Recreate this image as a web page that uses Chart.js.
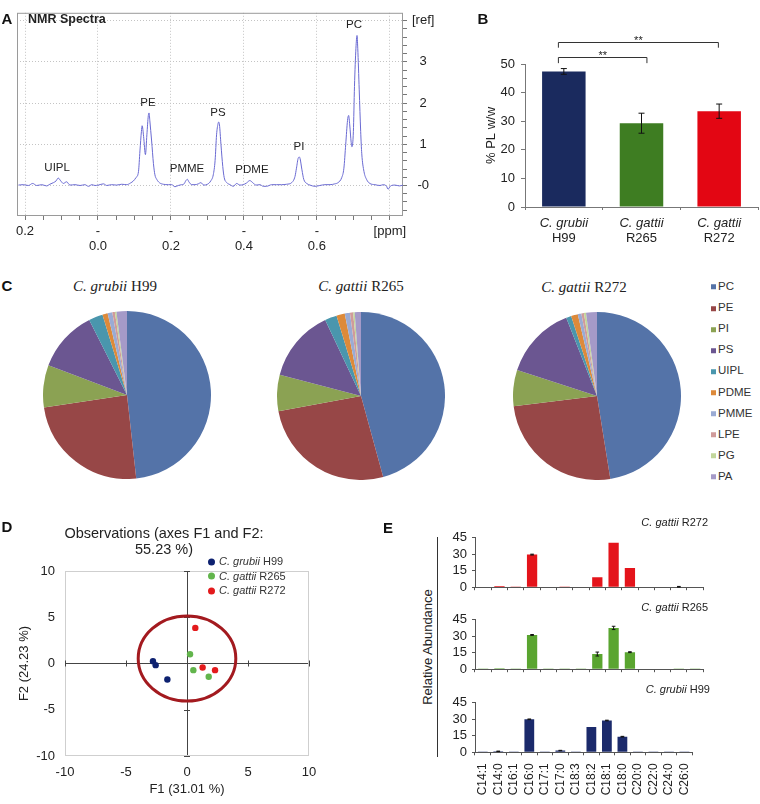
<!DOCTYPE html>
<html>
<head>
<meta charset="utf-8">
<script src="https://cdn.jsdelivr.net/npm/chart.js@4.4.1/dist/chart.umd.min.js"></script>
<style>
  body { margin: 0; background: #fff; }
  #fig { position: relative; width: 760px; height: 804px; overflow: hidden;
         font-family: 'Liberation Sans', Arial, sans-serif; color: #222; }
  #fig canvas { position: absolute; }
  .t { position: absolute; white-space: nowrap; line-height: 1; }
  .c { transform: translate(-50%, -50%); }
  .l { transform: translate(0, -50%); }
  .r { transform: translate(-100%, -50%); }
  .v { transform: translate(-50%, -50%) rotate(-90deg); }
  .panel { font-weight: bold; font-size: 15px; color: #111; }
  .serif { font-family: 'Liberation Serif', 'Times New Roman', serif; font-size: 15px; }
  .sq { display: inline-block; width: 5px; height: 5px; margin-right: 2px; vertical-align: middle; }
  .dot { display: inline-block; width: 7px; height: 7px; border-radius: 50%; margin-right: 4px; vertical-align: middle; }
</style>
</head>
<body>
<div id="fig">
  <canvas id="nmr" width="440" height="262" style="left:0;top:0"></canvas>
  <canvas id="plw" width="320" height="250" style="left:440px;top:0"></canvas>
  <canvas id="pieH99" width="168" height="168" style="left:43px;top:311px"></canvas>
  <canvas id="pieR265" width="168" height="168" style="left:277px;top:312px"></canvas>
  <canvas id="pieR272" width="168" height="168" style="left:513px;top:312px"></canvas>
  <canvas id="pca" width="340" height="284" style="left:0;top:520px"></canvas>
  <canvas id="faR272" width="270" height="75" style="left:437px;top:525px"></canvas>
  <canvas id="faR265" width="270" height="75" style="left:437px;top:607px"></canvas>
  <canvas id="faH99" width="270" height="114" style="left:437px;top:690px"></canvas>

  <div class="t c panel" style="left:7px;top:18px">A</div>
  <div class="t c panel" style="left:483px;top:18px">B</div>
  <div class="t c panel" style="left:7px;top:285px">C</div>
  <div class="t c panel" style="left:7px;top:526px">D</div>
  <div class="t c panel" style="left:388px;top:527px">E</div>

  <div class="t l" style="left:28px;top:19px;font-weight:bold;font-size:12.5px">NMR Spectra</div>

  <div class="t c serif" style="left:115px;top:286px"><i>C. grubii</i> H99</div>
  <div class="t c serif" style="left:361px;top:286px"><i>C. gattii</i> R265</div>
  <div class="t c serif" style="left:584px;top:287px"><i>C. gattii</i> R272</div>
  <div id="pieLegend"></div>

  <div class="t c" style="left:164px;top:533px;font-size:14.5px">Observations (axes F1 and F2:</div>
  <div class="t c" style="left:164px;top:549px;font-size:14.5px">55.23 %)</div>
  <div id="pcaLegend"></div>

  <div class="t r" style="left:708px;top:522px;font-size:11px"><i>C. gattii</i> R272</div>
  <div class="t r" style="left:708px;top:607px;font-size:11px"><i>C. gattii</i> R265</div>
  <div class="t r" style="left:710px;top:689px;font-size:11px"><i>C. grubii</i> H99</div>
  <div class="t v" style="left:427px;top:647px;font-size:13px;color:#222">Relative Abundance</div>
  <div style="position:absolute;left:437px;top:537px;width:1px;height:220px;background:#333"></div>
</div>

<script>
const nmrPpm = [
  -0.218, -0.205, -0.191, -0.179, -0.168, -0.154, -0.141, -0.132, -0.122, -0.115,
  -0.109, -0.102, -0.095, -0.086, -0.077, -0.063, -0.049, -0.036, -0.026, -0.017,
  -0.008, 0.001, 0.015, 0.024, 0.037, 0.051, 0.065, 0.079, 0.089, 0.097,
  0.104, 0.111, 0.115, 0.119, 0.121, 0.125, 0.130, 0.134, 0.138, 0.140,
  0.142, 0.147, 0.152, 0.156, 0.161, 0.168, 0.179, 0.193, 0.202, 0.211,
  0.220, 0.229, 0.236, 0.241, 0.245, 0.249, 0.257, 0.266, 0.275, 0.282,
  0.290, 0.300, 0.309, 0.316, 0.321, 0.325, 0.329, 0.331, 0.333, 0.337,
  0.342, 0.346, 0.353, 0.362, 0.371, 0.380, 0.389, 0.398, 0.407, 0.416,
  0.424, 0.433, 0.444, 0.453, 0.462, 0.476, 0.489, 0.503, 0.517, 0.531,
  0.540, 0.544, 0.549, 0.552, 0.554, 0.559, 0.564, 0.572, 0.581, 0.595,
  0.608, 0.622, 0.636, 0.649, 0.658, 0.668, 0.674, 0.679, 0.684, 0.687,
  0.690, 0.694, 0.696, 0.700, 0.703, 0.707, 0.710, 0.712, 0.716, 0.720,
  0.723, 0.729, 0.736, 0.745, 0.759, 0.773, 0.782, 0.791, 0.795, 0.802,
  0.814, 0.826, 0.836
];
const nmrIntensity = [
  0.01, 0.02, 0.00, 0.05, 0.00, 0.02, -0.01, 0.03, 0.07, 0.11,
  0.18, 0.11, 0.05, 0.09, 0.01, 0.02, 0.00, 0.02, -0.02, 0.02,
  0.00, 0.01, 0.04, 0.00, 0.02, 0.01, 0.03, 0.02, 0.06, 0.11,
  0.19, 0.34, 0.84, 1.31, 1.45, 1.19, 0.75, 1.23, 1.70, 1.76,
  1.58, 1.08, 0.53, 0.26, 0.15, 0.07, 0.03, 0.02, 0.02, -0.03,
  0.00, 0.02, 0.04, 0.12, 0.15, 0.09, 0.02, 0.02, 0.04, 0.07,
  0.01, 0.03, 0.11, 0.26, 0.61, 1.23, 1.50, 1.54, 1.47, 1.00,
  0.46, 0.19, 0.07, 0.02, -0.02, 0.05, 0.01, 0.02, 0.06, 0.12,
  0.07, 0.01, 0.02, -0.02, -0.02, 0.02, 0.02, 0.02, 0.03, 0.07,
  0.22, 0.42, 0.67, 0.69, 0.65, 0.38, 0.15, 0.05, 0.01, -0.02,
  0.00, 0.02, 0.02, 0.04, 0.07, 0.19, 0.42, 1.00, 1.58, 1.70,
  1.47, 1.04, 0.94, 1.31, 2.40, 3.33, 3.64, 3.33, 2.32, 1.31,
  0.77, 0.34, 0.15, 0.05, 0.02, 0.00, 0.02, -0.02, -0.09, -0.01,
  0.01, -0.01, 0.01
];
const peakNames   = ['UIPL', 'PE', 'PMME', 'PS', 'PDME', 'PI', 'PC'];
const peakPpm     = [-0.112, 0.137, 0.244, 0.329, 0.422, 0.551, 0.702];
const peakLabelY  = [0.44, 2.0, 0.40, 1.77, 0.37, 0.93, 3.91];
const nmrMajorTicks = [-0.2, 0, 0.2, 0.4, 0.6, 0.8];
const nmrTickTop    = ['0.2', '-', '-', '-', '-', '[ppm]'];
const nmrTickBottom = ['', '0.0', '0.2', '0.4', '0.6', ''];
const nmrYTicks      = [0, 1, 2, 3, 4];
const nmrYTickLabels = ['-0', '1', '2', '3', '[ref]'];

// ---- B: fosfolipídio total ----
const strainSpecies = ['C. grubii', 'C. gattii', 'C. gattii'];
const strainIds     = ['H99', 'R265', 'R272'];
const plPercent = [47.4, 29.3, 33.5];
const plError   = [1.0, 3.5, 2.5];
const sigFrom  = [-0.07, -0.07];
const sigTo    = [1.07, 1.99];
const sigLevel = [52.3, 57.7];
const sigMarks = ['**', '**'];

// ---- C: composição de fosfolipídios ----
const pieLabels = ['PC', 'PE', 'PI', 'PS', 'UIPL', 'PDME', 'PMME', 'LPE', 'PG', 'PA'];
const h99Share  = [48.1, 24.3, 8.1, 11.8, 2.7, 1.0, 0.9, 0.5, 0.3, 2.0];
const r265Share = [45.7, 26.3, 7.0, 13.9, 2.3, 1.6, 1.0, 0.6, 0.3, 1.2];
const r272Share = [47.7, 25.7, 7.0, 14.1, 1.0, 1.3, 0.7, 0.5, 0.4, 2.1];

// ---- D: observações da PCA ----
const h99F1  = [-2.79, -2.57, -1.61];
const h99F2  = [0.25, -0.18, -1.73];
const r265F1 = [0.25, 0.52, 1.78];
const r265F2 = [1.0, -0.72, -1.44];
const r272F1 = [0.68, 1.28, 2.30];
const r272F2 = [3.85, -0.43, -0.72];
const pcaTicks = [-10, -5, 0, 5, 10];
const ellipseCenter = [0, 0.54];
const ellipseRadii  = [4.0, 4.6];

// ---- E: perfil de ácidos graxos ----
const fattyAcids = ['C14:1', 'C14:0', 'C16:1', 'C16:0', 'C17:1', 'C17:0', 'C18:3',
                    'C18:2', 'C18:1', 'C18:0', 'C20:0', 'C22:0', 'C24:0', 'C26:0'];
const faR272Values = [0, 1.0, 0.6, 29.7, 0, 0.7, 0, 9.0, 40.6, 17.5, 0, 0, 0.4, 0];
const faR272Errors = [0, 0, 0, 0.4, 0, 0, 0, 0, 0, 0, 0, 0, 0.3, 0];
const faR265Values = [0.2, 0.8, 0.2, 31.2, 0.2, 0.6, 0.2, 13.8, 37.6, 15.5, 0.3, 0.3, 0.2, 0.2];
const faR265Errors = [0, 0, 0, 0.4, 0, 0, 0, 1.8, 1.5, 0.4, 0, 0, 0, 0];
const faH99Values  = [0.2, 0.9, 0.2, 30.0, 0.2, 1.6, 0.2, 23.0, 28.9, 14.2, 0.2, 0.2, 0.2, 0.2];
const faH99Errors  = [0, 0.2, 0, 0.3, 0, 0.2, 0, 0, 0.3, 0.3, 0, 0, 0, 0];

// Cores
const strainColors = ['#1a2a5e', '#3e7d22', '#e30613'];
const pcaColors    = ['#0d2170', '#62b54c', '#e31a1c'];
const faColors     = ['#1b2a6b', '#5aa530', '#e4141b'];
const pieColors = ['#5473a8', '#974747', '#8ba253', '#6b5691', '#4a96ad',
                   '#dd8a3a', '#9aabd4', '#d09b9a', '#c2d69b', '#a59ac8'];

const FONT = "'Liberation Sans', Arial, sans-serif";
Chart.defaults.font.family = FONT;
Chart.defaults.color = '#222';
Chart.defaults.animation = false;
Chart.defaults.responsive = false;
Chart.defaults.events = [];
Chart.defaults.plugins.legend.display = false;
Chart.defaults.plugins.tooltip.enabled = false;

const near = (a, b) => Math.abs(a - b) < 1e-6;

// --- plugins ---
const framePlugin = {
  id: 'frame',
  beforeDatasetsDraw(chart, args, opts) {
    const { ctx, chartArea: a } = chart;
    ctx.save();
    ctx.strokeStyle = opts.color || '#999';
    ctx.lineWidth = 1;
    ctx.strokeRect(a.left + 0.5, a.top + 0.5, a.right - a.left - 1, a.bottom - a.top - 1);
    ctx.restore();
  }
};

const peakLabelPlugin = {
  id: 'peakLabels',
  afterDatasetsDraw(chart) {
    const { ctx, scales: { x, y } } = chart;
    ctx.save();
    ctx.font = '11.5px ' + FONT;
    ctx.fillStyle = '#222';
    ctx.textAlign = 'center';
    ctx.textBaseline = 'middle';
    peakNames.forEach((n, i) => ctx.fillText(n, x.getPixelForValue(peakPpm[i]), y.getPixelForValue(peakLabelY[i])));
    ctx.restore();
  }
};

const errorBarPlugin = {
  id: 'errorBars',
  afterDatasetsDraw(chart, args, opts) {
    const { ctx, scales: { y } } = chart;
    ctx.save();
    ctx.strokeStyle = '#111';
    ctx.lineWidth = 1;
    chart.data.datasets.forEach((ds, di) => {
      if (!ds.errors) return;
      chart.getDatasetMeta(di).data.forEach((bar, i) => {
        const e = ds.errors[i];
        if (!e) return;
        const top = y.getPixelForValue(ds.data[i] + e);
        const bot = y.getPixelForValue(ds.data[i] - e);
        const c = opts.cap || 3;
        ctx.beginPath();
        ctx.moveTo(bar.x, top); ctx.lineTo(bar.x, bot);
        ctx.moveTo(bar.x - c, top); ctx.lineTo(bar.x + c, top);
        ctx.moveTo(bar.x - c, bot); ctx.lineTo(bar.x + c, bot);
        ctx.stroke();
      });
    });
    ctx.restore();
  }
};

const strainLabelPlugin = {
  id: 'strainLabels',
  afterDraw(chart) {
    const { ctx, chartArea, scales: { x, y } } = chart;
    ctx.save();
    ctx.fillStyle = '#222';
    ctx.textAlign = 'center';
    ctx.textBaseline = 'middle';
    strainSpecies.forEach((sp, i) => {
      const px = x.getPixelForValue(i);
      ctx.font = 'italic 13px ' + FONT;
      ctx.fillText(sp, px, chartArea.bottom + 16);
      ctx.font = '13px ' + FONT;
      ctx.fillText(strainIds[i], px, chartArea.bottom + 31);
    });
    // chaves de significância
    ctx.strokeStyle = '#333';
    ctx.lineWidth = 1;
    ctx.font = '11px ' + FONT;
    ctx.textBaseline = 'alphabetic';
    sigLevel.forEach((lv, i) => {
      const x1 = x.getPixelForValue(sigFrom[i]), x2 = x.getPixelForValue(sigTo[i]);
      const py = Math.round(y.getPixelForValue(lv)) + 0.5;
      const drop = y.getPixelForValue(lv - 2);
      ctx.beginPath();
      ctx.moveTo(x1, drop); ctx.lineTo(x1, py); ctx.lineTo(x2, py); ctx.lineTo(x2, drop);
      ctx.stroke();
      ctx.fillText(sigMarks[i], (x1 + x2) / 2, py + 1);
    });
    ctx.restore();
  }
};

const pcaDecorPlugin = {
  id: 'pcaDecor',
  beforeDatasetsDraw(chart) {
    const { ctx, scales: { x, y } } = chart;
    const x0 = x.getPixelForValue(0), y0 = y.getPixelForValue(0);
    ctx.save();
    ctx.strokeStyle = '#444';
    ctx.lineWidth = 1;
    ctx.beginPath();
    pcaTicks.forEach(v => {
      if (v === 0) return;
      const px = Math.round(x.getPixelForValue(v)) + 0.5;
      ctx.moveTo(px, y0 - 3); ctx.lineTo(px, y0 + 3);
      const py = Math.round(y.getPixelForValue(v)) + 0.5;
      ctx.moveTo(x0 - 3, py); ctx.lineTo(x0 + 3, py);
    });
    ctx.stroke();
    // elipse de confiança
    const cx = x.getPixelForValue(ellipseCenter[0]), cy = y.getPixelForValue(ellipseCenter[1]);
    const rx = Math.abs(x.getPixelForValue(ellipseCenter[0] + ellipseRadii[0]) - cx);
    const ry = Math.abs(y.getPixelForValue(ellipseCenter[1] + ellipseRadii[1]) - cy);
    ctx.strokeStyle = '#a31a1f';
    ctx.lineWidth = 3;
    ctx.beginPath();
    ctx.ellipse(cx, cy, rx, ry, 0, 0, Math.PI * 2);
    ctx.stroke();
    ctx.restore();
  }
};

// --- A ---
new Chart(document.getElementById('nmr'), {
  type: 'line',
  data: {
    datasets: [{
      data: nmrPpm.map((p, i) => ({ x: p, y: nmrIntensity[i] })),
      borderColor: '#6a6ad2',
      borderWidth: 1,
      pointRadius: 0,
      cubicInterpolationMode: 'monotone'
    }]
  },
  options: {
    layout: { padding: { left: 17, top: 4, right: 0, bottom: 0 } },
    plugins: { frame: { color: '#9a9a9a' } },
    scales: {
      x: {
        type: 'linear', min: -0.222, max: 0.836,
        afterFit: s => { s.height = 46; },
        ticks: {
          stepSize: 0.05, autoSkip: false, includeBounds: false, maxRotation: 0,
          padding: 4, font: { size: 13, lineHeight: 1.15 }, color: '#222',
          callback: v => {
            const k = nmrMajorTicks.findIndex(t => near(t, v));
            return k < 0 ? '' : [nmrTickTop[k], nmrTickBottom[k]];
          }
        },
        grid: {
          color: c => nmrMajorTicks.some(t => near(t, c.tick.value)) ? '#c4c4c4' : 'rgba(0,0,0,0)',
          tickColor: '#777', tickLength: 4
        },
        border: { display: false, dash: [1, 2] }
      },
      y: {
        position: 'right', min: -0.74, max: 4.19,
        afterFit: s => { s.width = 37; },
        ticks: {
          stepSize: 0.2, autoSkip: false, includeBounds: false, padding: 5,
          crossAlign: 'center', font: { size: 13 }, color: '#222',
          callback: v => {
            const k = nmrYTicks.findIndex(t => near(t, v));
            return k < 0 ? '' : nmrYTickLabels[k];
          }
        },
        grid: {
          color: c => nmrYTicks.some(t => near(t, c.tick.value)) ? '#c4c4c4' : 'rgba(0,0,0,0)',
          tickColor: '#777', tickLength: 4
        },
        border: { display: false, dash: [1, 2] }
      }
    }
  },
  plugins: [framePlugin, peakLabelPlugin]
});

// --- B ---
new Chart(document.getElementById('plw'), {
  type: 'bar',
  data: {
    labels: strainIds,
    datasets: [{
      data: plPercent, errors: plError,
      backgroundColor: strainColors,
      barPercentage: 0.56, categoryPercentage: 1
    }]
  },
  options: {
    layout: { padding: { left: 40, top: 64, right: 2, bottom: 0 } },
    plugins: { errorBars: { cap: 3 } },
    scales: {
      x: {
        afterFit: s => { s.height = 43; },
        ticks: { display: false },
        grid: { offset: true, drawOnChartArea: false, tickLength: 3, tickColor: '#777' },
        border: { color: '#777' }
      },
      y: {
        min: 0, max: 50,
        afterFit: s => { s.width = 45; },
        title: { display: true, text: '% PL w/w', font: { size: 13 }, color: '#222' },
        ticks: { stepSize: 10, padding: 6, font: { size: 13 }, color: '#222' },
        grid: { drawOnChartArea: false, tickLength: 4, tickColor: '#777' },
        border: { color: '#777' }
      }
    }
  },
  plugins: [errorBarPlugin, strainLabelPlugin]
});

// --- C ---
const makePie = (id, shares) => new Chart(document.getElementById(id), {
  type: 'pie',
  data: { labels: pieLabels, datasets: [{ data: shares, backgroundColor: pieColors, borderWidth: 0 }] },
  options: { layout: { padding: 0 } }
});
makePie('pieH99', h99Share);
makePie('pieR265', r265Share);
makePie('pieR272', r272Share);

const pieLegend = document.getElementById('pieLegend');
pieLabels.forEach((lab, i) => {
  const row = document.createElement('div');
  row.className = 't l';
  row.style.cssText = `left:711px;top:${287 + i * 21.1}px;font-size:11.5px;color:#333`;
  row.innerHTML = `<span class="sq" style="background:${pieColors[i]}"></span>${lab}`;
  pieLegend.appendChild(row);
});

// --- D ---
const pcaSeries = [[h99F1, h99F2], [r265F1, r265F2], [r272F1, r272F2]];
new Chart(document.getElementById('pca'), {
  type: 'scatter',
  data: {
    datasets: pcaSeries.map(([fx, fy], k) => ({
      data: fx.map((v, i) => ({ x: v, y: fy[i] })),
      backgroundColor: pcaColors[k], borderWidth: 0, pointRadius: 3.2
    }))
  },
  options: {
    layout: { padding: { left: 13, top: 51, right: 31, bottom: 3 } },
    plugins: { frame: { color: '#cfcfcf' } },
    scales: {
      x: {
        type: 'linear', min: -10, max: 10,
        afterFit: s => { s.height = 45; },
        title: { display: true, text: 'F1 (31.01 %)', font: { size: 13 }, color: '#222' },
        ticks: { stepSize: 5, padding: 9, font: { size: 13 }, color: '#222' },
        grid: { color: c => c.tick.value === 0 ? '#444' : 'rgba(0,0,0,0)', drawTicks: false },
        border: { display: false }
      },
      y: {
        min: -10, max: 10,
        afterFit: s => { s.width = 52; },
        title: { display: true, text: 'F2 (24.23 %)', font: { size: 13 }, color: '#222' },
        ticks: { stepSize: 5, padding: 10, font: { size: 13 }, color: '#222' },
        grid: { color: c => c.tick.value === 0 ? '#444' : 'rgba(0,0,0,0)', drawTicks: false },
        border: { display: false }
      }
    }
  },
  plugins: [framePlugin, pcaDecorPlugin]
});

const pcaLegend = document.getElementById('pcaLegend');
strainIds.forEach((id, i) => {
  const row = document.createElement('div');
  row.className = 't l';
  row.style.cssText = `left:208px;top:${561 + i * 14.5}px;font-size:11px;color:#333`;
  row.innerHTML = `<span class="dot" style="background:${pcaColors[i]}"></span><i>${strainSpecies[i]}</i> ${id}`;
  pcaLegend.appendChild(row);
});

// --- E ---
const makeFA = (id, values, errors, color, padTop, xHeight, showLabels) => new Chart(document.getElementById(id), {
  type: 'bar',
  data: {
    labels: fattyAcids,
    datasets: [{ data: values, errors: errors, backgroundColor: color, barPercentage: 0.63, categoryPercentage: 1 }]
  },
  options: {
    layout: { padding: { left: 0, top: padTop, right: 3.7, bottom: 0 } },
    plugins: { errorBars: { cap: 1.8 } },
    scales: {
      x: {
        afterFit: s => { s.height = xHeight; },
        ticks: { display: showLabels, autoSkip: false, minRotation: 90, maxRotation: 90, padding: 8, font: { size: 12 }, color: '#222' },
        grid: { offset: true, drawOnChartArea: false, tickLength: 3, tickColor: '#555' },
        border: { color: '#555' }
      },
      y: {
        min: 0, max: 45,
        afterFit: s => { s.width = 38; },
        ticks: { stepSize: 15, autoSkip: false, padding: 5, font: { size: 13 }, color: '#222' },
        grid: { drawOnChartArea: false, tickLength: 3, tickColor: '#555' },
        border: { color: '#555' }
      }
    }
  },
  plugins: [errorBarPlugin]
});
makeFA('faR272', faR272Values, faR272Errors, faColors[2], 10, 4, false);
makeFA('faR265', faR265Values, faR265Errors, faColors[1], 9.7, 4, false);
makeFA('faH99', faH99Values, faH99Errors, faColors[0], 8.3, 51.7, true);
</script>
</body>
</html>
